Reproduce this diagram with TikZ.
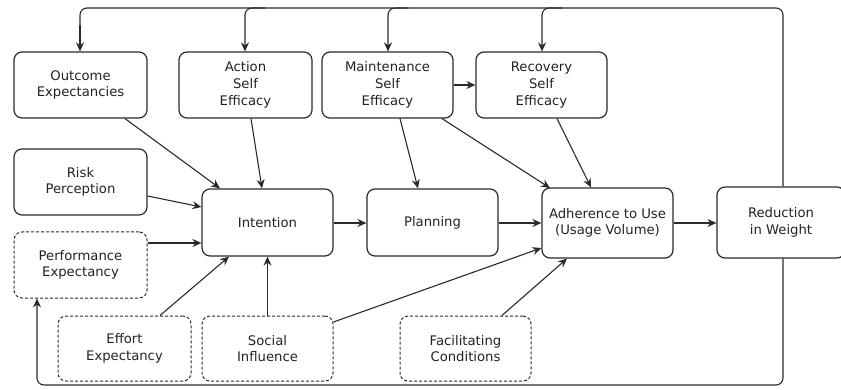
\documentclass[tikz,border=0pt]{standalone}
\usepackage{fontspec}
\setmainfont{DejaVu Sans}
\usetikzlibrary{arrows.meta}
\definecolor{ln}{HTML}{2a2a2a}
\definecolor{tx}{HTML}{222222}
\tikzset{
  box/.style={draw=ln, line width=1.2pt, rounded corners=8pt, align=center,
    inner sep=0pt, text=tx, font=\fontsize{13.2}{16.7}\selectfont},
  dbox/.style={box, dash pattern=on 3pt off 2pt, line width=1pt},
  arr/.style={draw=ln, line width=1.1pt, -{Stealth[length=9pt,width=8pt,inset=3pt]}},
  fb/.style={draw=ln, line width=1.1pt, rounded corners=7pt},
}
\begin{document}
\begin{tikzpicture}[x=1pt,y=-1pt]
\useasboundingbox (0,0) rectangle (841,390);
\clip (0,0) rectangle (841,390);
\node[box, minimum width=133pt, minimum height=66pt] (out) at (80.5,85) {Outcome\\Expectancies};
\node[box, minimum width=133pt, minimum height=66pt] (act) at (245.5,85) {Action\\Self\\Efficacy};
\node[box, minimum width=131pt, minimum height=66pt] (mai) at (387.5,85) {Maintenance\\Self\\Efficacy};
\node[box, minimum width=131pt, minimum height=66pt] (rec) at (541.5,85) {Recovery\\Self\\Efficacy};
\node[box, minimum width=133pt, minimum height=66pt] (risk) at (80.5,182) {Risk\\Perception};
\node[box, minimum width=131pt, minimum height=67pt] (int) at (267.5,222.5) {Intention};
\node[box, minimum width=131pt, minimum height=67pt] (pla) at (432.5,222.5) {Planning};
\node[box, minimum width=131pt, minimum height=70pt] (adh) at (607.5,223) {Adherence to Use\\(Usage Volume)};
\node[box, minimum width=128pt, minimum height=71pt] (red) at (781,222.5) {Reduction\\in Weight};
\node[dbox, minimum width=133pt, minimum height=66pt] (per) at (80.5,265) {Performance\\Expectancy};
\node[dbox, minimum width=133pt, minimum height=65pt] (eff) at (124.5,348.5) {Effort\\Expectancy};
\node[dbox, minimum width=131pt, minimum height=65pt] (soc) at (267.5,348.5) {Social\\Influence};
\node[dbox, minimum width=131pt, minimum height=65pt] (fac) at (465.5,348.5) {Facilitating\\Conditions};
% main arrows
\draw[arr] (out.south -| 125,0) -- (int.north -| 220,0);
\draw[arr] (act.south -| 251,0) -- (int.north -| 262,0);
\draw[arr] (mai.south -| 400,0) -- (pla.north -| 418,0);
\draw[arr] (mai.south -| 442,0) -- (550,188);
\draw[arr] (mai.east |- 0,85) -- (rec.west |- 0,85);
\draw[arr] (rec.south -| 557,0) -- (adh.north -| 591,0);
\draw[arr] (risk.east |- 0,196) -- (int.west |- 0,207);
\draw[arr] (per.east |- 0,243) -- (int.west |- 0,243);
\draw[arr] (eff.north -| 160,0) -- (int.south -| 229,0);
\draw[arr] (soc.north) -- (int.south);
\draw[arr] (soc.east |- 0,322) -- (adh.west |- 0,248);
\draw[arr] (fac.north -| 502,0) -- (adh.south -| 567,0);
\draw[arr] (int.east |- 0,223) -- (pla.west |- 0,223);
\draw[arr] (pla.east |- 0,223) -- (adh.west |- 0,223);
\draw[arr] (adh.east |- 0,223) -- (red.west |- 0,223);
% feedback
\coordinate (fbt) at (783,8);
\coordinate (fbb) at (783,385);
\draw[fb] (red.north -| fbt) -- (fbt) -- (80,8) -- (80,30);
\draw[arr, rounded corners=7pt] (80,25) -- (out.north -| 80,0);
\draw[arr, rounded corners=7pt] (265,8) -- (245,8) -- (act.north -| 245,0);
\draw[arr, rounded corners=7pt] (408,8) -- (388,8) -- (mai.north -| 388,0);
\draw[arr, rounded corners=7pt] (562,8) -- (542,8) -- (rec.north -| 542,0);
\draw[arr, rounded corners=7pt] (red.south -| fbb) -- (fbb) -- (37,385) -- (per.south -| 37,0);
\end{tikzpicture}
\end{document}
